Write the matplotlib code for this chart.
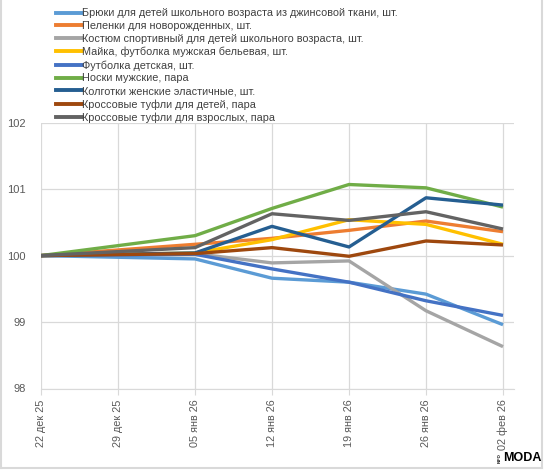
import matplotlib
matplotlib.use('Agg')
import matplotlib.pyplot as plt
from matplotlib.lines import Line2D
import datetime as dt

plt.rcParams['font.family'] = ['Liberation Sans', 'DejaVu Sans']

# dates of observations
dates = [dt.date(2025, 12, 22), dt.date(2026, 1, 5), dt.date(2026, 1, 12),
         dt.date(2026, 1, 19), dt.date(2026, 1, 26), dt.date(2026, 2, 2)]

names = ['Брюки для детей школьного возраста из джинсовой ткани, шт.',
         'Пеленки для новорожденных, шт.',
         'Костюм спортивный для детей школьного возраста, шт.',
         'Майка, футболка мужская бельевая, шт.',
         'Футболка детская, шт.',
         'Носки мужские, пара',
         'Колготки женские эластичные, шт.',
         'Кроссовые туфли для детей, пара',
         'Кроссовые туфли для взрослых, пара']

bryuki = [100, 99.95, 99.66, 99.60, 99.42, 98.96]
pelenki = [100, 100.17, 100.26, 100.38, 100.52, 100.36]
kostyum = [100, 100.03, 99.89, 99.92, 99.17, 98.63]
mayka = [100, 100.04, 100.24, 100.54, 100.47, 100.17]
futbolka = [100, 100.02, 99.80, 99.60, 99.32, 99.10]
noski = [100, 100.30, 100.71, 101.07, 101.02, 100.73]
kolgotki = [100, 100.04, 100.44, 100.13, 100.87, 100.76]
krossovki_deti = [100, 100.03, 100.12, 99.99, 100.22, 100.16]
krossovki_vzr = [100, 100.12, 100.63, 100.53, 100.66, 100.40]

series = [bryuki, pelenki, kostyum, mayka, futbolka, noski, kolgotki,
          krossovki_deti, krossovki_vzr]
colors = ['#5B9BD5', '#ED7D31', '#A5A5A5', '#FFC000', '#4472C4',
          '#70AD47', '#255E91', '#9E480E', '#636363']

months = {12: 'дек', 1: 'янв', 2: 'фев'}

fig = plt.figure(figsize=(5.45, 4.72), dpi=100)
ax = fig.add_axes([41/545, 1 - 388.5/472, (514 - 41)/545, (388.5 - 122.7)/472])

for vals, c in zip(series, colors):
    ax.plot(dates, vals, color=c, lw=2.4, solid_capstyle='butt', solid_joinstyle='round')

ax.set_ylim(98, 102)
ax.set_yticks([98, 99, 100, 101, 102])
ax.set_xlim(dt.date(2025, 12, 22), dt.date(2026, 2, 3))
ticks = [dt.date(2025, 12, 22) + dt.timedelta(days=7 * i) for i in range(7)]
ax.set_xticks(ticks)
ax.set_xticklabels(['%02d %s %s' % (d.day, months[d.month], str(d.year)[2:]) for d in ticks],
                   rotation=90, va='top', ha='center')
ax.grid(True, color='#D9D9D9', lw=0.9)
ax.set_axisbelow(True)
for s in ['top', 'right', 'left']:
    ax.spines[s].set_visible(False)
ax.spines['bottom'].set_color('#D9D9D9')
ax.tick_params(axis='x', length=4, color='#D9D9D9', labelsize=7.8, labelcolor='#595959', pad=4)
ax.tick_params(axis='y', length=0, labelsize=8, labelcolor='#595959', pad=11)

handles = [Line2D([], [], color=c, lw=2.8) for c in colors]
fig.legend(handles, names, loc='upper left', bbox_to_anchor=(52/545, 1 - 4/472), frameon=False,
           fontsize=7.8, labelcolor='#404040', handlelength=2.4, handletextpad=0.0,
           labelspacing=0.26, borderaxespad=0)

# frame
fig.add_artist(Line2D([0.002, 0.002], [0.008, 1], color='#D9D9D9', lw=1.5, transform=fig.transFigure))
fig.add_artist(Line2D([0.994, 0.994], [0.008, 1], color='#D9D9D9', lw=1.5, transform=fig.transFigure))
fig.add_artist(Line2D([0.002, 0.994], [0.008, 0.008], color='#D9D9D9', lw=1.5, transform=fig.transFigure))

# logo
fig.text(503/545, 1 - 458/472, 'MODA', fontsize=9, fontweight='bold', color='black',
         ha='left', va='center')
fig.text(502/545, 1 - 458/472, 'INFO', fontsize=3, fontweight='bold', color='black',
         ha='right', va='center', rotation=90)

fig.savefig('out.png', dpi=100)
